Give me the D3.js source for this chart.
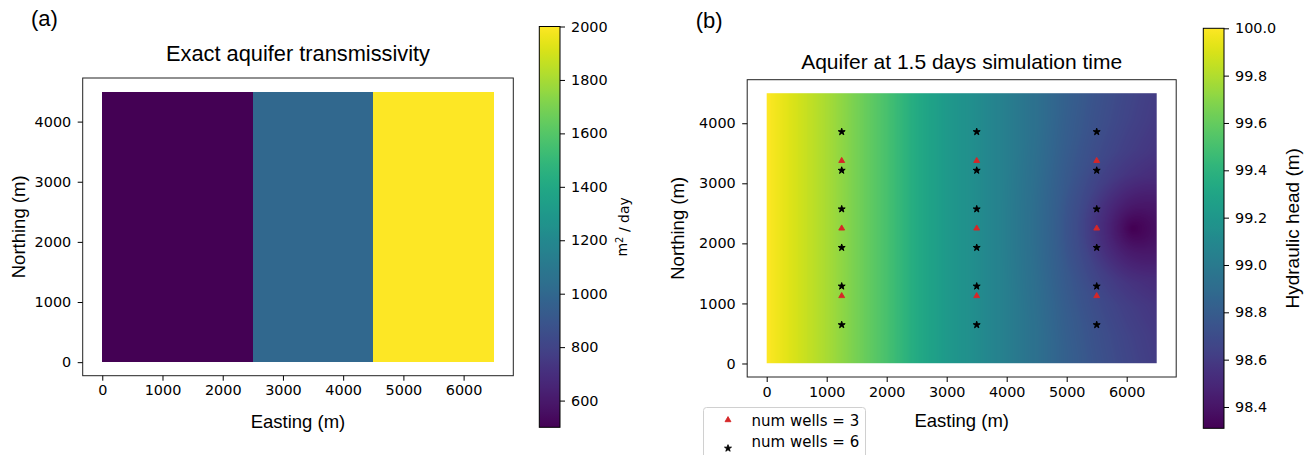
<!DOCTYPE html>
<html>
<head>
<meta charset="utf-8">
<script src="https://cdn.jsdelivr.net/npm/d3@7"></script>
<style>
  body { margin: 0; background: #fff; }
  svg { display: block; }
</style>
</head>
<body>
<svg id="chart" width="1312" height="455"></svg>
<script>
// ---- data ----
// (a) transmissivity zones along easting
const zoneStart = [0, 2500, 4500];
const zoneEnd = [2500, 4500, 6500];
const zoneTransmissivity = [500, 1000, 2000];
const transExtent = [500, 2000];
const transTicks = [600, 800, 1000, 1200, 1400, 1600, 1800, 2000];

// (b) hydraulic head: regional profile along easting + drawdown cone around the pumping spot
const profileEasting = [0, 500, 1000, 1500, 2000, 2500, 3000, 3500, 4000, 4500, 5000, 5500, 6000, 6500];
const profileHead = [100.0, 99.89, 99.78, 99.65, 99.51, 99.34, 99.22, 99.13, 99.03, 98.93, 98.82, 98.74, 98.67, 98.61];
const coneCenter = [6100, 2250];
const coneRadius = [0, 100, 200, 400, 600, 900, 1300, 1800, 2300];
const coneDrawdown = [0.35, 0.32, 0.29, 0.23, 0.18, 0.10, 0.045, 0.015, 0];
const headExtent = [98.31, 100.0];
const headTicks = [98.4, 98.6, 98.8, 99.0, 99.2, 99.4, 99.6, 99.8, 100.0];

// wells
const wellEasting = [1250, 3500, 5500];
const wells3Northing = [1125, 2250, 3375];
const wells6Northing = [643, 1286, 1929, 2571, 3214, 3857];

// axes
const eastTicks = [0, 1000, 2000, 3000, 4000, 5000, 6000];
const northTicks = [0, 1000, 2000, 3000, 4000];
const domainX = [-325, 6825];
const domainY = [-225, 4725];
const aquiferSize = [6500, 4500];

const TICK_FONT = 'DejaVu Sans';
const LABEL_FONT = 'Liberation Sans, Arial, sans-serif';

let svg = d3.select('#chart');
svg.append('rect').attr('width', 1312).attr('height', 455).attr('fill', '#fff');

let styleAxis = (g) => {
    g.select('.domain').remove();
    g.selectAll('.tick line').attr('stroke', '#000').attr('stroke-width', 1);
    g.selectAll('.tick text')
        .attr('fill', '#000')
        .style('font-family', TICK_FONT)
        .style('font-size', '14.4px');
};

let drawPanel = (p) => {
    let x = d3.scaleLinear().domain(domainX).range([p.left, p.right]);
    let y = d3.scaleLinear().domain(domainY).range([p.bottom, p.top]);
    let g = svg.append('g');

    p.drawField(g, x, y);

    // frame
    g.append('rect')
        .attr('x', p.left).attr('y', p.top)
        .attr('width', p.right - p.left).attr('height', p.bottom - p.top)
        .attr('fill', 'none').attr('stroke', '#222').attr('stroke-width', 1);

    g.append('g')
        .attr('transform', `translate(0,${p.bottom})`)
        .call(d3.axisBottom(x).tickValues(eastTicks).tickSize(5).tickPadding(4.5).tickFormat(d3.format('d')))
        .call(styleAxis);

    g.append('g')
        .attr('transform', `translate(${p.left},0)`)
        .call(d3.axisLeft(y).tickValues(northTicks).tickSize(5).tickPadding(6.5).tickFormat(d3.format('d')))
        .call(styleAxis);

    // labels
    g.append('text')
        .attr('x', (p.left + p.right) / 2).attr('y', p.titleY)
        .attr('text-anchor', 'middle')
        .style('font-family', LABEL_FONT).style('font-size', p.titleSize)
        .text(p.title);
    g.append('text')
        .attr('x', (p.left + p.right) / 2).attr('y', p.xLabelY)
        .attr('text-anchor', 'middle')
        .style('font-family', LABEL_FONT).style('font-size', '18.5px')
        .text('Easting (m)');
    g.append('text')
        .attr('transform', `translate(${p.yLabelX},${(p.top + p.bottom) / 2}) rotate(-90)`)
        .attr('text-anchor', 'middle')
        .style('font-family', LABEL_FONT).style('font-size', '18.5px')
        .text('Northing (m)');
    g.append('text')
        .attr('x', p.tagX).attr('y', p.tagY)
        .style('font-family', LABEL_FONT).style('font-size', '22px')
        .text(p.tag);

    return {x, y, g};
};

let drawColorbar = (cb) => {
    let c = d3.scaleLinear().domain(cb.domain).range([cb.bottom, cb.top]);
    let id = 'grad-' + cb.id;
    let grad = svg.append('defs').append('linearGradient')
        .attr('id', id).attr('x1', 0).attr('y1', 1).attr('x2', 0).attr('y2', 0);
    d3.range(0, 1.0001, 0.02).forEach((t) => {
        grad.append('stop').attr('offset', t).attr('stop-color', d3.interpolateViridis(t));
    });
    svg.append('rect')
        .attr('x', cb.left).attr('y', cb.top)
        .attr('width', cb.right - cb.left).attr('height', cb.bottom - cb.top)
        .attr('fill', `url(#${id})`)
        .attr('stroke', '#000').attr('stroke-width', 1);
    svg.append('g')
        .attr('transform', `translate(${cb.right},0)`)
        .call(d3.axisRight(c).tickValues(cb.ticks).tickSize(5).tickPadding(6).tickFormat(cb.format))
        .call(styleAxis);
    let label = svg.append('text')
        .attr('transform', `translate(${cb.labelX},${(cb.top + cb.bottom) / 2}) rotate(-90)`)
        .attr('text-anchor', 'middle')
        .style('font-family', cb.labelFont).style('font-size', cb.labelSize);
    cb.label(label);
};

// ---- panel (a) ----
let transColor = d3.scaleSequential(d3.interpolateViridis).domain(transExtent);
drawPanel({
    left: 82.7, right: 513.3, top: 78, bottom: 375.7,
    title: 'Exact aquifer transmissivity', titleY: 61, titleSize: '21.8px',
    xLabelY: 428, yLabelX: 25, tag: '(a)', tagX: 31, tagY: 26,
    drawField: (g, x, y) => {
        g.selectAll('.zone')
            .data(zoneTransmissivity)
          .enter().append('rect')
            .attr('class', 'zone')
            .attr('x', (d, i) => x(zoneStart[i]))
            .attr('width', (d, i) => x(zoneEnd[i]) - x(zoneStart[i]))
            .attr('y', y(aquiferSize[1]))
            .attr('height', y(0) - y(aquiferSize[1]))
            .attr('fill', d => transColor(d))
            .attr('shape-rendering', 'crispEdges');
    }
});
drawColorbar({
    id: 'trans', left: 539.3, right: 560, top: 26.5, bottom: 427.3,
    domain: transExtent, ticks: transTicks, format: d3.format('d'),
    labelX: 627, labelFont: TICK_FONT, labelSize: '14px',
    label: (t) => {
        t.append('tspan').text('m');
        t.append('tspan').attr('dy', '-0.45em').style('font-size', '10px').text('2');
        t.append('tspan').attr('dy', '0.45em').text(' / day');
    }
});

// ---- panel (b) ----
let profile = d3.scaleLinear().domain(profileEasting).range(profileHead).clamp(true);
let drawdown = d3.scaleLinear().domain(coneRadius).range(coneDrawdown).clamp(true);
let headNorm = d3.scaleLinear().domain(headExtent).range([0, 1]).clamp(true);

let panelB = drawPanel({
    left: 747.2, right: 1176.2, top: 79.7, bottom: 377,
    title: 'Aquifer at 1.5 days simulation time', titleY: 68.5, titleSize: '21px',
    xLabelY: 426.5, yLabelX: 684, tag: '(b)', tagX: 695.7, tagY: 28.3,
    drawField: (g, x, y) => {
        let x0 = x(0), y0 = y(aquiferSize[1]);
        let w = Math.round(x(aquiferSize[0]) - x0);
        let h = Math.round(y(0) - y0);
        let canvas = document.createElement('canvas');
        canvas.width = w; canvas.height = h;
        let ctx = canvas.getContext('2d');
        let img = ctx.createImageData(w, h);
        for (let j = 0; j < h; j++) {
            let n = y.invert(y0 + j + 0.5);
            for (let i = 0; i < w; i++) {
                let e = x.invert(x0 + i + 0.5);
                let r = Math.hypot(e - coneCenter[0], n - coneCenter[1]);
                let head = profile(e) - drawdown(r);
                let col = d3.rgb(d3.interpolateViridis(headNorm(head)));
                let k = (j * w + i) * 4;
                img.data[k] = col.r; img.data[k + 1] = col.g; img.data[k + 2] = col.b; img.data[k + 3] = 255;
            }
        }
        ctx.putImageData(img, 0, 0);
        g.append('image')
            .attr('x', x0).attr('y', y0).attr('width', w).attr('height', h)
            .attr('preserveAspectRatio', 'none')
            .attr('href', canvas.toDataURL());
    }
});

// wells: num wells = 3 (red triangles) and num wells = 6 (black stars)
let wells3 = [], wells6 = [];
wellEasting.forEach((e) => {
    wells3Northing.forEach((n) => wells3.push([e, n]));
    wells6Northing.forEach((n) => wells6.push([e, n]));
});
let triangle = d3.symbol().type(d3.symbolTriangle).size(15);
let star = d3.symbol().type(d3.symbolStar).size(15);
panelB.g.selectAll('.w3').data(wells3).enter().append('path')
    .attr('class', 'w3')
    .attr('transform', d => `translate(${panelB.x(d[0])},${panelB.y(d[1])})`)
    .attr('d', triangle).attr('fill', '#d62728')
    .attr('stroke', '#d62728').attr('stroke-width', 0.9).attr('stroke-linejoin', 'round');
panelB.g.selectAll('.w6').data(wells6).enter().append('path')
    .attr('class', 'w6')
    .attr('transform', d => `translate(${panelB.x(d[0])},${panelB.y(d[1])})`)
    .attr('d', star).attr('fill', '#000')
    .attr('stroke', '#000').attr('stroke-width', 1).attr('stroke-linejoin', 'round');

drawColorbar({
    id: 'head', left: 1203.3, right: 1224, top: 28.3, bottom: 428.3,
    domain: headExtent, ticks: headTicks, format: d3.format('.1f'),
    labelX: 1299, labelFont: LABEL_FONT, labelSize: '19px',
    label: (t) => t.text('Hydraulic head (m)')
});

// legend
let legend = svg.append('g').attr('transform', 'translate(703.5,407.5)');
legend.append('rect')
    .attr('width', 162).attr('height', 52).attr('rx', 3)
    .attr('fill', '#fff').attr('fill-opacity', 0.8)
    .attr('stroke', '#d0d0d0').attr('stroke-width', 1);
let legendItems = [
    {label: 'num wells = 3', symbol: triangle, color: '#d62728', y: 12.5, textY: 18.2},
    {label: 'num wells = 6', symbol: star, color: '#000', y: 40.8, textY: 39.2}
];
legendItems.forEach((d) => {
    legend.append('path')
        .attr('transform', `translate(24.5,${d.y})`)
        .attr('d', d.symbol).attr('fill', d.color)
        .attr('stroke', d.color).attr('stroke-width', 0.9).attr('stroke-linejoin', 'round');
    legend.append('text')
        .attr('x', 48).attr('y', d.textY)
        .style('font-family', TICK_FONT).style('font-size', '15px')
        .text(d.label);
});
</script>
</body>
</html>
